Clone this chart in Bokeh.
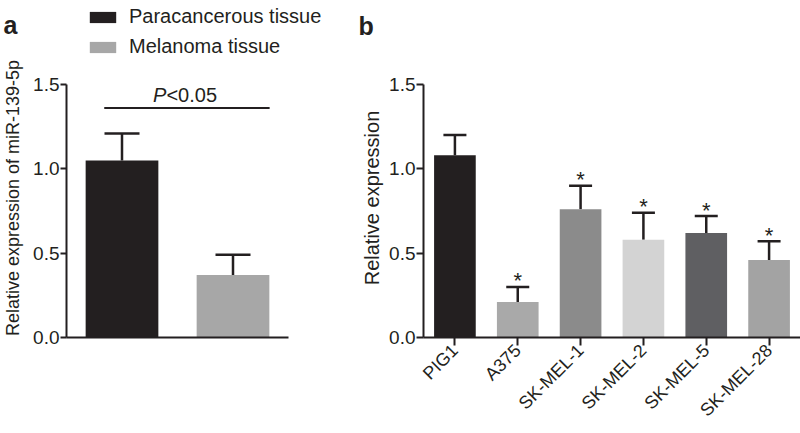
from bokeh.plotting import figure
from bokeh.models import (ColumnDataSource, FactorRange, Range1d, FixedTicker, PrintfTickFormatter,
                          Whisker, TeeHead, Legend, LegendItem, Label)
from bokeh.layouts import row, column
from bokeh.core.properties import value
from bokeh.embed import file_html
from bokeh.resources import INLINE
import math

# ---- data: panel a ----
groups_a = ["Paracancerous tissue", "Melanoma tissue"]
mean_a = [1.05, 0.37]
upper_a = [1.21, 0.49]
colors_a = ["#231f20", "#a7a7a7"]
p_text_a = ["P", "<0.05"]
p_line_y = 1.36
p_text_y = 1.44

# ---- data: panel b ----
cells_b = ["PIG1", "A375", "SK-MEL-1", "SK-MEL-2", "SK-MEL-5", "SK-MEL-28"]
mean_b = [1.08, 0.21, 0.76, 0.58, 0.62, 0.46]
upper_b = [1.20, 0.30, 0.90, 0.74, 0.72, 0.57]
colors_b = ["#231f20", "#a9a9a9", "#8b8b8b", "#d3d3d3", "#5f5f62", "#a3a3a3"]
sig_b = ["", "*", "*", "*", "*", "*"]

panel_letters = ["a", "b"]
y_ticks = [0.0, 0.5, 1.0, 1.5]
Y_TOP = 1.654
FONT = "Liberation Sans"
INK = "#231f20"

HEAD_H = 58
MAIN_H = 375


def style(p, ylabel, label_size, tick_out, label_standoff):
    p.xgrid.visible = False
    p.ygrid.visible = False
    p.outline_line_color = None
    for ax in (p.xaxis[0], p.yaxis[0]):
        ax.axis_line_width = 2
        ax.axis_line_color = INK
        ax.major_tick_line_width = 2
        ax.major_tick_line_color = INK
        ax.minor_tick_line_color = None
        ax.major_tick_in = 0
        ax.major_label_text_font = FONT
        ax.major_label_text_color = INK
        ax.axis_label_text_font = FONT
        ax.axis_label_text_color = INK
        ax.axis_label_text_font_style = "normal"
    ya = p.yaxis[0]
    ya.ticker = FixedTicker(ticks=y_ticks)
    ya.formatter = PrintfTickFormatter(format="%.1f")
    ya.bounds = (0, 1.5)
    ya.major_tick_out = tick_out
    ya.major_label_standoff = 1
    ya.major_label_text_font_size = "19px"
    ya.axis_label = ylabel
    ya.axis_label_text_font_size = label_size
    ya.axis_label_standoff = label_standoff


src_a = ColumnDataSource(dict(g=groups_a, m=mean_a, u=upper_a, c=colors_a))

# ---------------- header (panel letters + legend of panel a) ----------------
head = figure(width=800, height=HEAD_H, x_range=FactorRange(*groups_a), y_range=Range1d(10, 11),
              x_axis_location=None, y_axis_location=None, output_backend="svg",
              toolbar_location=None, min_border=0, outline_line_color=None)
head.grid.visible = False
leg_r = head.vbar(x="g", top="m", width=0.5, source=src_a, fill_color="c", line_color=None)
legend = Legend(items=[LegendItem(label=groups_a[0], renderers=[leg_r], index=0),
                       LegendItem(label=groups_a[1], renderers=[leg_r], index=1)],
                location=(86, 0), padding=0, margin=0, spacing=7,
                glyph_width=33, glyph_height=14, label_height=20, label_standoff=10,
                label_text_font=FONT, label_text_font_size="20px", label_text_color=INK,
                border_line_color=None, background_fill_alpha=0)
head.add_layout(legend)
head.add_layout(Label(x=3, y=HEAD_H - 24, x_units="screen", y_units="screen", text=panel_letters[0],
                      text_font=FONT, text_font_size="25px", text_font_style="bold",
                      text_color=INK, text_baseline="alphabetic"))
head.add_layout(Label(x=358, y=HEAD_H - 25, x_units="screen", y_units="screen", text=panel_letters[1],
                      text_font=FONT, text_font_size="25px", text_font_style="bold",
                      text_color=INK, text_baseline="alphabetic"))

# ---------------- panel a ----------------
pa = figure(width=358, height=MAIN_H, x_range=FactorRange(*groups_a, range_padding=0),
            y_range=Range1d(0, Y_TOP), output_backend="svg", toolbar_location=None,
            min_border_left=62, min_border_right=70, min_border_top=0, min_border_bottom=96)
style(pa, "Relative expression of miR-139-5p", "18px", 6, 7)
pa.xaxis.ticker = FixedTicker(ticks=[])
pa.xaxis.major_tick_out = 0

pa.vbar(x="g", top="m", width=0.655, source=src_a, fill_color="c", line_color=None)
pa.add_layout(Whisker(base="g", upper="u", lower="m", source=src_a, line_width=2.5, line_color=INK,
                      upper_head=TeeHead(size=35, line_width=2.5, line_color=INK), lower_head=None))

pa.segment(x0=[(groups_a[0], -0.16)], x1=[(groups_a[1], 0.33)], y0=[p_line_y], y1=[p_line_y],
           line_width=2, line_color=INK)
pa.text(x=[(groups_a[0], 0.40)], y=[p_text_y], text=[p_text_a[0]], text_align="right",
        text_baseline="alphabetic", text_font=value(FONT), text_font_size="20px",
        text_font_style="italic", text_color=INK)
pa.text(x=[(groups_a[0], 0.40)], y=[p_text_y], text=[p_text_a[1]], text_align="left",
        text_baseline="alphabetic", text_font=value(FONT), text_font_size="20px",
        text_color=INK)

# ---------------- panel b ----------------
src_b = ColumnDataSource(dict(g=cells_b, m=mean_b, u=upper_b, c=colors_b))
sig_x = [c for c, s in zip(cells_b, sig_b) if s]
sig_y = [u for u, s in zip(upper_b, sig_b) if s]
sig_t = [s for s in sig_b if s]

pb = figure(width=442, height=MAIN_H, x_range=FactorRange(*cells_b, range_padding=0),
            y_range=Range1d(0, Y_TOP), output_backend="svg", toolbar_location=None,
            min_border_left=62, min_border_right=0, min_border_top=0, min_border_bottom=96)
style(pb, "Relative expression", "20px", 7, 3)
pb.xaxis.major_tick_out = 8
pb.xaxis.major_label_standoff = 2
pb.xaxis.major_label_orientation = math.pi / 4
pb.xaxis.major_label_text_font_size = "18px"

pb.vbar(x="g", top="m", width=0.663, source=src_b, fill_color="c", line_color=None)
pb.add_layout(Whisker(base="g", upper="u", lower="m", source=src_b, line_width=2.5, line_color=INK,
                      upper_head=TeeHead(size=23, line_width=2.5, line_color=INK), lower_head=None))
pb.text(x=sig_x, y=sig_y, text=sig_t, text_align="center", text_baseline="alphabetic",
        y_offset=-6, text_font=value(FONT), text_font_size="22px", text_color=INK)

layout = column(head, row(pa, pb))
open("out.html", "w").write(file_html(layout, INLINE))
